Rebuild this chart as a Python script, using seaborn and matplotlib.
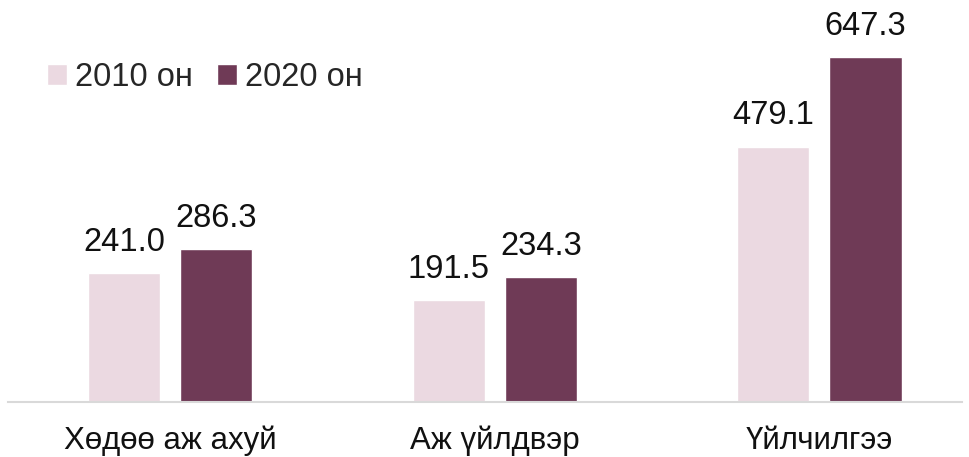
import pandas as pd
import matplotlib.pyplot as plt
import seaborn as sns
sns.set_style('white')
plt.rcParams['font.family'] = ['Liberation Sans', 'DejaVu Sans']

sectors = ['Хөдөө аж ахуй', 'Аж үйлдвэр', 'Үйлчилгээ']
years = ['2010 он', '2020 он']
values_2010 = [241.0, 191.5, 479.1]
values_2020 = [286.3, 234.3, 647.3]
colors = ['#EBD9E1', '#6F3A56']

df = pd.DataFrame({
	'sector': sectors * 2,
	'year': [years[0]] * 3 + [years[1]] * 3,
	'value': values_2010 + values_2020,
})

fig = plt.figure(figsize = (9.69, 4.57), dpi = 100)
ax = fig.add_axes([0.008, 0.1204, 0.985, 0.8796])
sns.barplot(data = df, x = 'sector', y = 'value', hue = 'year', order = sectors,
	hue_order = years, palette = colors, width = 0.568, gap = 0.218,
	saturation = 1, errorbar = None, ax = ax)

for cont in ax.containers:
	ax.bar_label(cont, labels = ['{:.1f}'.format(v) for v in cont.datavalues],
		padding = 11, fontsize = 23.5, color = '#111111')

ax.set_xlim(-0.50, 2.44)
ax.set_ylim(0, 754)
ax.set_xlabel('')
ax.set_ylabel('')
ax.set_yticks([])
ax.tick_params(axis = 'x', length = 0, pad = 17, labelsize = 22.5, labelcolor = '#111111')
for s in ['top', 'right', 'left']:
	ax.spines[s].set_visible(False)
ax.spines['bottom'].set_color('#d9d9d9')
ax.spines['bottom'].set_linewidth(1.5)

ax.legend(loc = 'upper left', bbox_to_anchor = (47 / 969, 1 - 62 / 457),
	bbox_transform = fig.transFigure, ncol = 2, frameon = False, fontsize = 23.5,
	handlelength = 0.6, handleheight = 0.6, handletextpad = 0.25, columnspacing = 0.75,
	borderaxespad = 0, borderpad = 0)

fig.savefig('out.png', dpi = 100)
